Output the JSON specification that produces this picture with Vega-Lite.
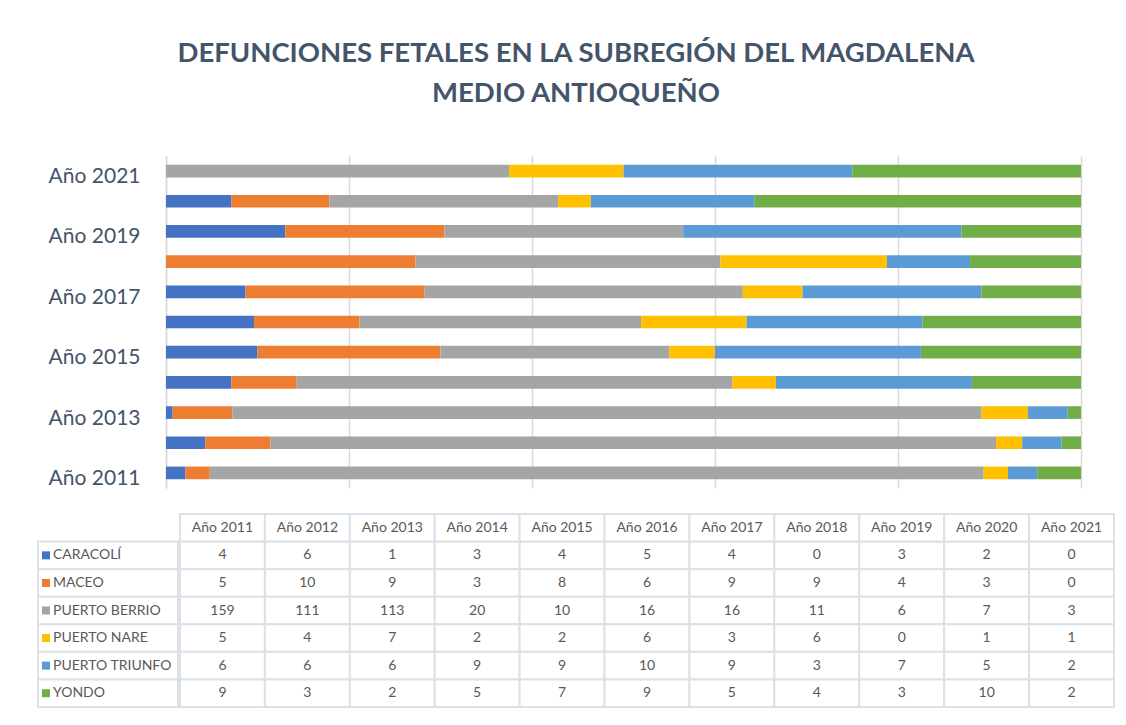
{
  "$schema": "https://vega.github.io/schema/vega-lite/v6.json",
  "background": "white",
  "padding": {"left": 37, "top": 39, "right": 15, "bottom": 10},
  "config": {"font": "Lato", "view": {"stroke": null}},
  "title": {
    "text": ["DEFUNCIONES FETALES EN LA SUBREGIÓN DEL MAGDALENA", "MEDIO ANTIOQUEÑO"],
    "fontSize": 27.5, "fontWeight": "bold", "color": "#44546A", "lineHeight": 40,
    "anchor": "middle", "offset": 49, "font": "Lato"
  },
  "datasets": {
    "d": [
      {"municipio": "CARACOLÍ", "anio": "Año 2011", "valor": 4},
      {"municipio": "CARACOLÍ", "anio": "Año 2012", "valor": 6},
      {"municipio": "CARACOLÍ", "anio": "Año 2013", "valor": 1},
      {"municipio": "CARACOLÍ", "anio": "Año 2014", "valor": 3},
      {"municipio": "CARACOLÍ", "anio": "Año 2015", "valor": 4},
      {"municipio": "CARACOLÍ", "anio": "Año 2016", "valor": 5},
      {"municipio": "CARACOLÍ", "anio": "Año 2017", "valor": 4},
      {"municipio": "CARACOLÍ", "anio": "Año 2018", "valor": 0},
      {"municipio": "CARACOLÍ", "anio": "Año 2019", "valor": 3},
      {"municipio": "CARACOLÍ", "anio": "Año 2020", "valor": 2},
      {"municipio": "CARACOLÍ", "anio": "Año 2021", "valor": 0},
      {"municipio": "MACEO", "anio": "Año 2011", "valor": 5},
      {"municipio": "MACEO", "anio": "Año 2012", "valor": 10},
      {"municipio": "MACEO", "anio": "Año 2013", "valor": 9},
      {"municipio": "MACEO", "anio": "Año 2014", "valor": 3},
      {"municipio": "MACEO", "anio": "Año 2015", "valor": 8},
      {"municipio": "MACEO", "anio": "Año 2016", "valor": 6},
      {"municipio": "MACEO", "anio": "Año 2017", "valor": 9},
      {"municipio": "MACEO", "anio": "Año 2018", "valor": 9},
      {"municipio": "MACEO", "anio": "Año 2019", "valor": 4},
      {"municipio": "MACEO", "anio": "Año 2020", "valor": 3},
      {"municipio": "MACEO", "anio": "Año 2021", "valor": 0},
      {"municipio": "PUERTO BERRIO", "anio": "Año 2011", "valor": 159},
      {"municipio": "PUERTO BERRIO", "anio": "Año 2012", "valor": 111},
      {"municipio": "PUERTO BERRIO", "anio": "Año 2013", "valor": 113},
      {"municipio": "PUERTO BERRIO", "anio": "Año 2014", "valor": 20},
      {"municipio": "PUERTO BERRIO", "anio": "Año 2015", "valor": 10},
      {"municipio": "PUERTO BERRIO", "anio": "Año 2016", "valor": 16},
      {"municipio": "PUERTO BERRIO", "anio": "Año 2017", "valor": 16},
      {"municipio": "PUERTO BERRIO", "anio": "Año 2018", "valor": 11},
      {"municipio": "PUERTO BERRIO", "anio": "Año 2019", "valor": 6},
      {"municipio": "PUERTO BERRIO", "anio": "Año 2020", "valor": 7},
      {"municipio": "PUERTO BERRIO", "anio": "Año 2021", "valor": 3},
      {"municipio": "PUERTO NARE", "anio": "Año 2011", "valor": 5},
      {"municipio": "PUERTO NARE", "anio": "Año 2012", "valor": 4},
      {"municipio": "PUERTO NARE", "anio": "Año 2013", "valor": 7},
      {"municipio": "PUERTO NARE", "anio": "Año 2014", "valor": 2},
      {"municipio": "PUERTO NARE", "anio": "Año 2015", "valor": 2},
      {"municipio": "PUERTO NARE", "anio": "Año 2016", "valor": 6},
      {"municipio": "PUERTO NARE", "anio": "Año 2017", "valor": 3},
      {"municipio": "PUERTO NARE", "anio": "Año 2018", "valor": 6},
      {"municipio": "PUERTO NARE", "anio": "Año 2019", "valor": 0},
      {"municipio": "PUERTO NARE", "anio": "Año 2020", "valor": 1},
      {"municipio": "PUERTO NARE", "anio": "Año 2021", "valor": 1},
      {"municipio": "PUERTO TRIUNFO", "anio": "Año 2011", "valor": 6},
      {"municipio": "PUERTO TRIUNFO", "anio": "Año 2012", "valor": 6},
      {"municipio": "PUERTO TRIUNFO", "anio": "Año 2013", "valor": 6},
      {"municipio": "PUERTO TRIUNFO", "anio": "Año 2014", "valor": 9},
      {"municipio": "PUERTO TRIUNFO", "anio": "Año 2015", "valor": 9},
      {"municipio": "PUERTO TRIUNFO", "anio": "Año 2016", "valor": 10},
      {"municipio": "PUERTO TRIUNFO", "anio": "Año 2017", "valor": 9},
      {"municipio": "PUERTO TRIUNFO", "anio": "Año 2018", "valor": 3},
      {"municipio": "PUERTO TRIUNFO", "anio": "Año 2019", "valor": 7},
      {"municipio": "PUERTO TRIUNFO", "anio": "Año 2020", "valor": 5},
      {"municipio": "PUERTO TRIUNFO", "anio": "Año 2021", "valor": 2},
      {"municipio": "YONDO", "anio": "Año 2011", "valor": 9},
      {"municipio": "YONDO", "anio": "Año 2012", "valor": 3},
      {"municipio": "YONDO", "anio": "Año 2013", "valor": 2},
      {"municipio": "YONDO", "anio": "Año 2014", "valor": 5},
      {"municipio": "YONDO", "anio": "Año 2015", "valor": 7},
      {"municipio": "YONDO", "anio": "Año 2016", "valor": 9},
      {"municipio": "YONDO", "anio": "Año 2017", "valor": 5},
      {"municipio": "YONDO", "anio": "Año 2018", "valor": 4},
      {"municipio": "YONDO", "anio": "Año 2019", "valor": 3},
      {"municipio": "YONDO", "anio": "Año 2020", "valor": 10},
      {"municipio": "YONDO", "anio": "Año 2021", "valor": 2}
    ]
  },
  "spacing": 24,
  "vconcat": [
    {
      "width": 1043,
      "height": 332,
      "data": {"name": "d"},
      "mark": {"type": "bar"},
      "encoding": {
        "y": {
          "field": "anio", "type": "nominal", "sort": "descending",
          "scale": {"paddingInner": 0.58, "paddingOuter": 0.29},
          "axis": {
            "title": null,
            "values": ["Año 2011", "Año 2013", "Año 2015", "Año 2017", "Año 2019", "Año 2021"],
            "labelFontSize": 21, "labelColor": "#44546A", "labelPadding": 26, "labelOffset": 6,
            "ticks": false, "domainColor": "#D9D9D9", "domainWidth": 1.5,
            "offset": -128
          }
        },
        "x": {
          "field": "valor", "type": "quantitative", "stack": "normalize",
          "scale": {"domain": [0, 1], "range": [128, 1043]},
          "axis": {
            "title": null, "labels": false, "ticks": false, "domain": false,
            "grid": true, "gridColor": "#D9D9D9", "gridWidth": 1.5,
            "values": [0, 0.2, 0.4, 0.6, 0.8, 1]
          }
        },
        "color": {
          "field": "municipio", "type": "nominal",
          "scale": {
            "domain": ["CARACOLÍ", "MACEO", "PUERTO BERRIO", "PUERTO NARE", "PUERTO TRIUNFO", "YONDO"],
            "range": ["#4472C4", "#ED7D31", "#A5A5A5", "#FFC000", "#5B9BD5", "#70AD47"]
          },
          "legend": null
        }
      }
    },
    {
      "spacing": 0,
      "hconcat": [
        {
          "width": 140,
          "height": 193,
          "data": {"name": "d"},
          "transform": [{"filter": "datum.anio == 'Año 2011'"}],
          "encoding": {
            "y": {
              "field": "municipio", "type": "nominal",
              "scale": {
                "domain": ["hdr", "CARACOLÍ", "MACEO", "PUERTO BERRIO", "PUERTO NARE", "PUERTO TRIUNFO", "YONDO"],
                "paddingInner": 0, "paddingOuter": 0
              },
              "axis": null
            }
          },
          "layer": [
            {"mark": {"type": "rect", "fill": "white", "stroke": "#DCE1E7", "strokeWidth": 2}},
            {
              "mark": {"type": "square", "size": 64, "opacity": 1, "filled": true, "x": 8},
              "encoding": {"color": {"field": "municipio", "type": "nominal", "legend": null}}
            },
            {
              "mark": {"type": "text", "align": "left", "x": 15, "fontSize": 14, "color": "#595959", "font": "Lato"},
              "encoding": {"text": {"field": "municipio"}}
            }
          ]
        },
        {
          "width": 934,
          "height": 193,
          "data": {"name": "d"},
          "encoding": {
            "x": {
              "field": "anio", "type": "nominal",
              "scale": {"paddingInner": 0, "paddingOuter": 0},
              "axis": null
            }
          },
          "layer": [
            {
              "mark": {"type": "rect", "fill": "white", "stroke": "#DCE1E7", "strokeWidth": 2},
              "encoding": {
                "y": {
                  "field": "municipio", "type": "nominal",
                  "scale": {
                    "domain": ["hdr", "CARACOLÍ", "MACEO", "PUERTO BERRIO", "PUERTO NARE", "PUERTO TRIUNFO", "YONDO"],
                    "paddingInner": 0, "paddingOuter": 0
                  },
                  "axis": null
                }
              }
            },
            {
              "mark": {"type": "text", "fontSize": 14, "color": "#595959", "font": "Lato"},
              "encoding": {
                "y": {"field": "municipio", "type": "nominal"},
                "text": {"field": "valor", "type": "quantitative"}
              }
            },
            {
              "transform": [{"filter": "datum.municipio == 'CARACOLÍ'"}],
              "mark": {"type": "rect", "fill": "white", "stroke": "#DCE1E7", "strokeWidth": 2},
              "encoding": {"y": {"datum": "hdr", "type": "nominal"}}
            },
            {
              "transform": [{"filter": "datum.municipio == 'CARACOLÍ'"}],
              "mark": {"type": "text", "fontSize": 14, "color": "#595959", "font": "Lato"},
              "encoding": {
                "y": {"datum": "hdr", "type": "nominal"},
                "text": {"field": "anio", "type": "nominal"}
              }
            }
          ]
        }
      ]
    }
  ]
}
